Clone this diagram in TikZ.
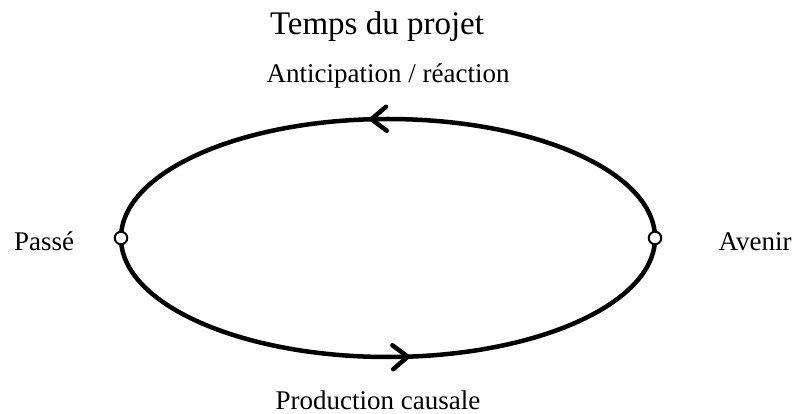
\documentclass[tikz,border=0pt]{standalone}
\usepackage{fontspec}
\setmainfont{Liberation Serif}
\usetikzlibrary{arrows.meta,decorations.markings}
\tikzset{chev/.tip={Straight Barb[length=15pt,width=24pt,line width=4.5pt,round]}}
\begin{document}
\begin{tikzpicture}[x=1pt,y=-1pt,
  lbl/.style={anchor=base,inner sep=0pt,font=\fontsize{27}{32}\selectfont},
  ttl/.style={anchor=base,inner sep=0pt,font=\fontsize{33}{38}\selectfont},
  dot/.style={circle,draw=black,fill=white,line width=2pt,minimum size=12.5pt,inner sep=0pt},
  loop/.style={line width=4.5pt,postaction={decorate}}]
\useasboundingbox (0,0) rectangle (793,414);
\coordinate (pL) at (121,238);
\coordinate (pR) at (655,238);
\draw[loop,decoration={markings,mark=at position 0.53 with {\arrow{chev}}}]
  (pR) arc[start angle=0,end angle=-180,x radius=267,y radius=119];
\draw[loop,decoration={markings,mark=at position 0.535 with {\arrow{chev}}}]
  (pL) arc[start angle=180,end angle=0,x radius=267,y radius=119];
\node[dot] (passe) at (pL) {};
\node[dot] (avenir) at (pR) {};
\node[ttl] (titre) at (377,35) {Temps du projet};
\node[lbl] (antic) at (388,83) {Anticipation / réaction};
\node[lbl] (lpasse) at (44,251) {Passé};
\node[lbl] (lavenir) at (755,251) {Avenir};
\node[lbl] (prod) at (378,409) {Production causale};
\end{tikzpicture}
\end{document}
